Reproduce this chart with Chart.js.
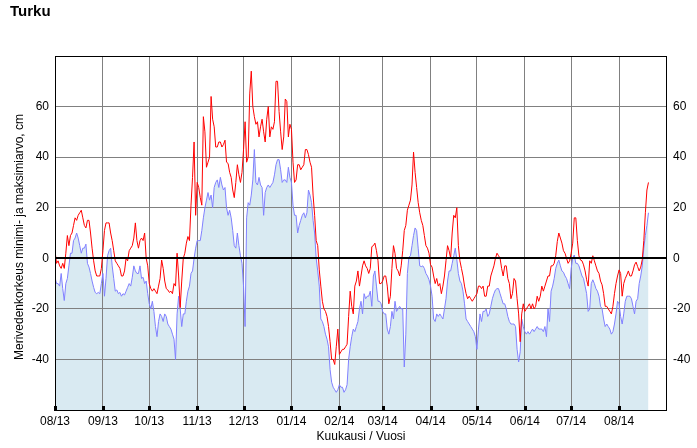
<!DOCTYPE html>
<html>
<head>
<meta charset="utf-8">
<script src="https://cdn.jsdelivr.net/npm/chart.js@4.4.1/dist/chart.umd.min.js"></script>
<style>
  html, body { margin: 0; padding: 0; background: #ffffff; }
  #wrap { width: 697px; height: 448px; }
</style>
</head>
<body>
<div id="wrap"><canvas id="c" width="697" height="448"></canvas></div>
<script>
// Month tick positions (day offset from 1 Aug 2013) and labels
const monthTickDays = [0, 31, 61, 92, 122, 153, 184, 212, 243, 273, 304, 334, 365];
const monthLabels = ['08/13','09/13','10/13','11/13','12/13','01/14','02/14','03/14','04/14','05/14','06/14','07/14','08/14'];
const yTickValues = [-60, -40, -20, 0, 20, 40, 60, 80];
const yAxisTitle = 'Merivedenkorkeus minimi- ja maksimiarvo, cm';
const xAxisTitle = 'Kuukausi / Vuosi';

// Daily maximum sea level (cm), from 1 Aug 2013
const maxLevel = [
  3, -2, -1, -3, -4, -2, -4, 2, 9, 5,
  9, 10, 13, 16, 15, 17, 18, 19, 16, 13,
  12, 15, 15, 10, 4, -1, -5, -7, -7, -7,
  -4, 3, 11, 14, 14, 14, 10, 7, 3, -1,
  -2, -3, -4, -7, -7, -5, 0, -1, 3, 4,
  5, 8, 14, 7, 4, 7, 8, 7, 10, 0,
  -3, -10, -12, -13, -12, -13, -14, -11, -8, -0.7,
  -4, -9, -12, -12.5, -13.5, -13, -14, -10, -11, 2,
  -7, -19.5, -9, 0, 2, 6, 8.6, 7, 21, 32,
  46, 17, 30, 28, 24, 21, 56, 50, 36, 38,
  40, 64, 55, 52, 44, 44, 46, 46, 44, 45,
  46.7, 38, 37.5, 34, 32, 27, 24, 30, 37, 33,
  30, 34, 43, 54, 38, 40, 65, 74, 60, 56,
  53, 54, 48, 52, 55, 50, 46, 55, 60, 48,
  52, 51, 54, 70, 70, 58, 50, 43, 48, 63,
  62, 48, 53, 51, 38, 30, 31, 37, 37, 35,
  36, 37, 43, 43, 41, 38, 36, 25, 17, 7,
  5, -4.6, -11, -17, -20, -21, -23, -27, -33, -40,
  -40, -42, -35, -28, -38, -37, -36, -36, -35, -34,
  -23, -13, -19, -22, -11, -9, -5, -11, -7, -3,
  -1, -3, -4, -6, -4, 4.6, 5, 6, 3, -1,
  -10, -10, -9, -7, -7, -11, -18, -15, -4, 5,
  2, -4, -5, -7, -3, 3, 11, 13, 19, 21,
  23, 29, 42, 34, 28, 22, 18, 15, 13, 9,
  5, 4, 2, -2.5, -3.5, -7, -10, -8, -11, -10,
  -14, -11, -7, -1, 5, 3, 0, 10, 17, 16,
  20, 5, -1, -4, -7, -11, -14, -16, -15, -16,
  -17, -16, -15, -14, -11, -11, -12, -11, -15, -15,
  -11, -11, -7, -5, -3, 0, 2, 1, 0, -4,
  -7, -3, -3, -8, -10, -16, -14, -8, -9, -16,
  -22, -33, -22, -18, -21, -20, -19, -18, -20, -18,
  -20, -19, -15, -17, -15, -11, -13, -11, -9, -7,
  -7, -3, -3, -2, 1, 6.6, 10, 8, 6, 3,
  2, 0, -2, -1, 2, 6, 16, 16, 7, 1,
  -0.7, -1, -2.6, -5, -8.5, -11, -1, -2, 1, -1,
  -3, -5, -6, -9, -10.5, -14, -19, -19, -20, -21,
  -22, -19, -14, -10, -7, -4.6, -6, -15, -10, -8,
  -6.6, -5, -7, -7, -5, -2.6, -1.5, -3.3, -5, -3.5,
  -0.5, 7, 18, 27, 30
];

// Daily minimum sea level (cm), from 1 Aug 2013
const minLevel = [
  -7.5, -10, -10, -11, -6, -12, -16.7, -10, -8, -3,
  2, 2, 7, 8, 10, 8, 5, 2, 4, 4,
  5.6, -2, -3.5, -6, -9, -11.5, -13.5, -14, -13.5, -14,
  -10, -6, -15, -8, 1, 3, 4, -3, -8, -13,
  -12.5, -14, -13.5, -15, -14, -14.5, -13, -11.5, -10, -11,
  -7.5, -3, -5, -6, -6, -3, -8, -7.5, -10, -9,
  -14, -18, -20, -17, -21, -27, -31, -25, -22, -23,
  -25, -22, -23, -26, -27, -28, -30, -32, -40, -22,
  -15, -20, -27, -22, -22, -17, -13, -11, -6, -5,
  0, 4, 7, 7, 7, 11, 16, 20, 23, 26,
  23, 25, 20, 28, 30, 31, 28, 32, 29, 27,
  28, 20, 17, 19, 16, 11, 5, 4, 10, 5,
  1, -2, -11, -27, 16, 22, 21, 25, 31, 43,
  30, 29, 32, 29, 28, 17, 26, 28, 29, 28,
  29, 30, 33, 37, 39, 39, 35, 30, 31, 31,
  30, 36, 32, 30, 21, 17, 17, 10, 13, 15,
  17, 18, 16, 18, 27, 25, 22, 15, 10, 0,
  -5, -11, -24, -25, -27, -30, -32, -35, -44, -49,
  -51, -52, -53, -52, -50, -51, -51, -53, -52, -50,
  -40, -35, -31, -28, -29, -27, -25, -20, -17, -22,
  -14, -16, -15, -15, -13, -19, -7, -5, -11, -17,
  -17, -18, -21, -22, -22, -28, -30, -27, -21, -24,
  -17, -21, -20, -19, -20, -20, -43, -30, -6, 0.5,
  1, 5, 9, 12, 11, 4, -3, -3.3, -3, -4,
  -6, -7, -8.5, -11, -15, -24, -25, -22, -23, -22,
  -23, -24, -20, -16, -9, -5, -5, -2, 1, 4,
  -0.5, -6, -9, -10, -13, -18, -24, -25, -26, -27,
  -28, -29, -31, -36, -28, -22, -25, -21, -21, -20,
  -23, -22, -19, -16, -14, -12.5, -12, -12, -14, -16,
  -18, -18, -20, -23, -25, -26, -26, -26, -27, -36,
  -41, -37, -24, -27, -29, -30, -29, -30, -29, -28,
  -29, -28, -27, -28, -28, -28, -29, -27, -31, -20,
  -25, -13, -11, -8, -4, -2, -0.7, -3, -5, -5.5,
  -7, -8, -10, -12, -4, 0, 1.3, -2, -2, -3,
  -5, -7, -8, -11, -14, -21, -20, -10, -8.5, -10,
  -12, -13, -15, -19, -20, -24, -27, -26, -27, -28,
  -30, -29, -26, -22, -17, -18, -23, -26, -22, -17,
  -15, -15, -15, -16, -19, -22, -17, -16, -10, -7,
  -3, 4, 9, 13, 18
];

const toPoints = arr => arr.map((v, i) => ({ x: i, y: v }));

const frame = {
  id: 'frame',
  afterDatasetsDraw(chart) {
    const { ctx, chartArea: a, scales } = chart;
    ctx.save();
    // zero line
    const y0 = Math.round(scales.y.getPixelForValue(0));
    ctx.strokeStyle = '#000';
    ctx.lineWidth = 2;
    ctx.beginPath();
    ctx.moveTo(a.left, y0);
    ctx.lineTo(a.right, y0);
    ctx.stroke();
    // border
    ctx.lineWidth = 1;
    ctx.strokeRect(a.left + 0.5, a.top + 0.5, a.right - a.left - 1, a.bottom - a.top);
    // inward month tick marks
    ctx.fillStyle = '#000';
    monthTickDays.forEach(d => {
      const x = Math.round(scales.x.getPixelForValue(d));
      ctx.fillRect(x - 1, a.bottom - 4, 3, 5);
    });
    // y-axis title
    ctx.translate(20, 237);
    ctx.rotate(-Math.PI / 2);
    ctx.font = '12px "Liberation Sans", Arial, sans-serif';
    ctx.textAlign = 'center';
    ctx.textBaseline = 'middle';
    ctx.fillStyle = '#000';
    ctx.fillText(yAxisTitle, 0, 0);
    ctx.restore();
  }
};

Chart.defaults.font.family = '"Liberation Sans", Arial, sans-serif';
Chart.defaults.font.size = 12;
Chart.defaults.color = '#000';

new Chart(document.getElementById('c'), {
  type: 'line',
  data: {
    datasets: [
      {
        label: 'Maksimi',
        data: toPoints(maxLevel),
        borderColor: '#ff0000',
        borderWidth: 1,
        pointRadius: 0,
        tension: 0,
        fill: false
      },
      {
        label: 'Minimi',
        data: toPoints(minLevel),
        borderColor: '#8080ff',
        backgroundColor: '#d9eaf2',
        borderWidth: 1,
        pointRadius: 0,
        tension: 0,
        fill: 'start'
      }
    ]
  },
  options: {
    responsive: false,
    devicePixelRatio: 1,
    animation: false,
    layout: { padding: { left: 10, right: 0, top: 0, bottom: 0 } },
    plugins: {
      legend: { display: false },
      tooltip: { enabled: false },
      filler: { drawTime: 'beforeDraw' },
      title: {
        display: true,
        text: 'Turku',
        align: 'start',
        color: '#000',
        font: { size: 15, weight: 'bold' },
        padding: { top: 3, bottom: 35 }
      }
    },
    scales: {
      x: {
        type: 'linear',
        min: 0,
        max: 396,
        afterBuildTicks: s => { s.ticks = monthTickDays.map(v => ({ value: v })); },
        afterFit: s => { s.height = 38; },
        ticks: {
          autoSkip: false,
          maxRotation: 0,
          padding: 4,
          callback: (v, i) => monthLabels[i]
        },
        grid: { color: '#808080', lineWidth: 1, drawTicks: false },
        border: { display: false },
        title: { display: true, text: xAxisTitle, font: { size: 12 }, padding: { top: 0, bottom: 4 } }
      },
      y: {
        position: 'left',
        min: -60,
        max: 80,
        afterBuildTicks: s => { s.ticks = yTickValues.map(v => ({ value: v })); },
        afterFit: s => { s.width = 45; },
        ticks: {
          padding: 6,
          callback: v => (v === -60 || v === 80) ? '' : String(v)
        },
        grid: {
          color: c => (c.tick && c.tick.value === 0) ? 'rgba(0,0,0,0)' : '#808080',
          lineWidth: 1,
          drawTicks: false
        },
        border: { display: false }
      },
      y2: {
        position: 'right',
        min: -60,
        max: 80,
        afterBuildTicks: s => { s.ticks = yTickValues.map(v => ({ value: v })); },
        afterFit: s => { s.width = 30; },
        ticks: {
          padding: 6,
          callback: v => (v === -60 || v === 80) ? '' : String(v)
        },
        grid: { drawOnChartArea: false, drawTicks: false },
        border: { display: false }
      }
    }
  },
  plugins: [frame]
});
</script>
</body>
</html>
